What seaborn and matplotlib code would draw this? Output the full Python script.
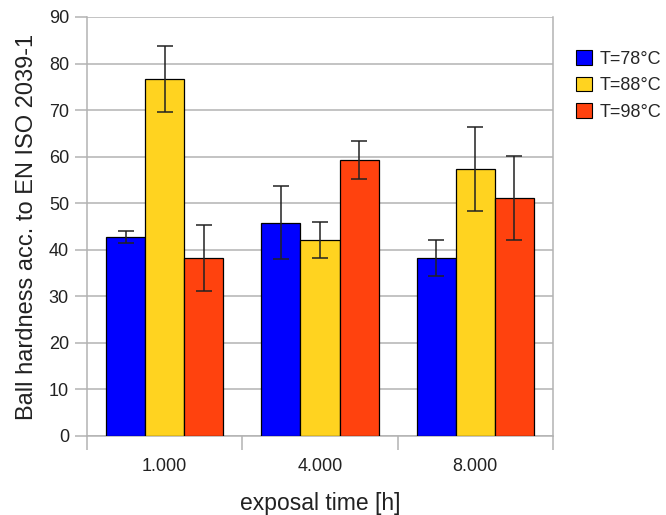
import matplotlib
matplotlib.use("Agg")
import matplotlib.pyplot as plt
import seaborn as sns
import pandas as pd
import numpy as np
from matplotlib.patches import Patch

categories = ["1.000", "4.000", "8.000"]
series = ["T=78°C", "T=88°C", "T=98°C"]
values_78 = [42.7, 45.8, 38.3]
values_88 = [76.7, 42.1, 57.3]
values_98 = [38.3, 59.3, 51.2]
err_78 = [1.3, 7.8, 3.9]
err_88 = [7.1, 3.9, 9.0]
err_98 = [7.1, 4.0, 9.0]
y_ticks = [0, 10, 20, 30, 40, 50, 60, 70, 80, 90]
colors = ["#0000FF", "#FFD320", "#FF420E"]

rows = []
for s, vals, errs in zip(series, [values_78, values_88, values_98], [err_78, err_88, err_98]):
    for c, v, e in zip(categories, vals, errs):
        rows.append({"time": c, "series": s, "value": v, "err": e})
df = pd.DataFrame(rows)

sns.set_theme(style="white")
plt.rcParams['font.family'] = ['Liberation Sans', 'DejaVu Sans']

fig = plt.figure(figsize=(6.66, 5.15), dpi=100)
ax = fig.add_axes([87/666, 79/515, (553-87)/666, (436-17)/515])

sns.barplot(data=df, x="time", y="value", hue="series", order=categories,
            hue_order=series, palette=colors, errorbar=None, width=0.755,
            edgecolor="black", linewidth=0.9, saturation=1, ax=ax, legend=False, zorder=3)

# error bars at bar centres
for cont, s in zip(ax.containers, series):
    sub = df[df.series == s].set_index("time").loc[categories]
    xs = [b.get_x() + b.get_width() / 2 for b in cont]
    ax.errorbar(xs, sub["value"].values, yerr=sub["err"].values, fmt="none",
                ecolor="#222222", elinewidth=1.1, capsize=6, capthick=1.1, zorder=4)

ax.set_ylim(0, 90)
ax.set_xlim(-0.5, 2.5)
ax.set_yticks(y_ticks)
ax.yaxis.grid(True, color="#b3b3b3", linewidth=1.1, zorder=0)
ax.set_axisbelow(True)

for side in ["left", "right", "bottom"]:
    ax.spines[side].set_color("#b3b3b3")
    ax.spines[side].set_linewidth(1.1)
ax.spines["top"].set_visible(False)

ax.tick_params(axis="y", which="major", length=9, width=1.1, color="#b3b3b3",
               labelsize=13, labelcolor="#222222", pad=4, left=True)
ax.set_xticks([0, 1, 2])
ax.set_xticklabels(categories)
ax.tick_params(axis="x", which="major", length=0, labelsize=13, labelcolor="#222222", pad=16)
ax.set_xticks([-0.5, 0.5, 1.5, 2.5], minor=True)
ax.tick_params(axis="x", which="minor", length=10, width=1.1, color="#b3b3b3", bottom=True)

ax.set_xlabel("exposal time [h]", fontsize=16.5, color="#222222", labelpad=12)
ax.set_ylabel("Ball hardness acc. to EN ISO 2039-1", fontsize=17, color="#222222", labelpad=8)

handles = [Patch(facecolor=c, edgecolor="black", linewidth=0.8) for c in colors]
fig.legend(handles, series, loc="upper left", bbox_to_anchor=(569/666, 1 - 43/515),
           frameon=False, fontsize=13, handlelength=0.85, handleheight=0.85,
           handletextpad=0.45, labelspacing=0.5, borderaxespad=0)

fig.savefig("out.png", dpi=100)
